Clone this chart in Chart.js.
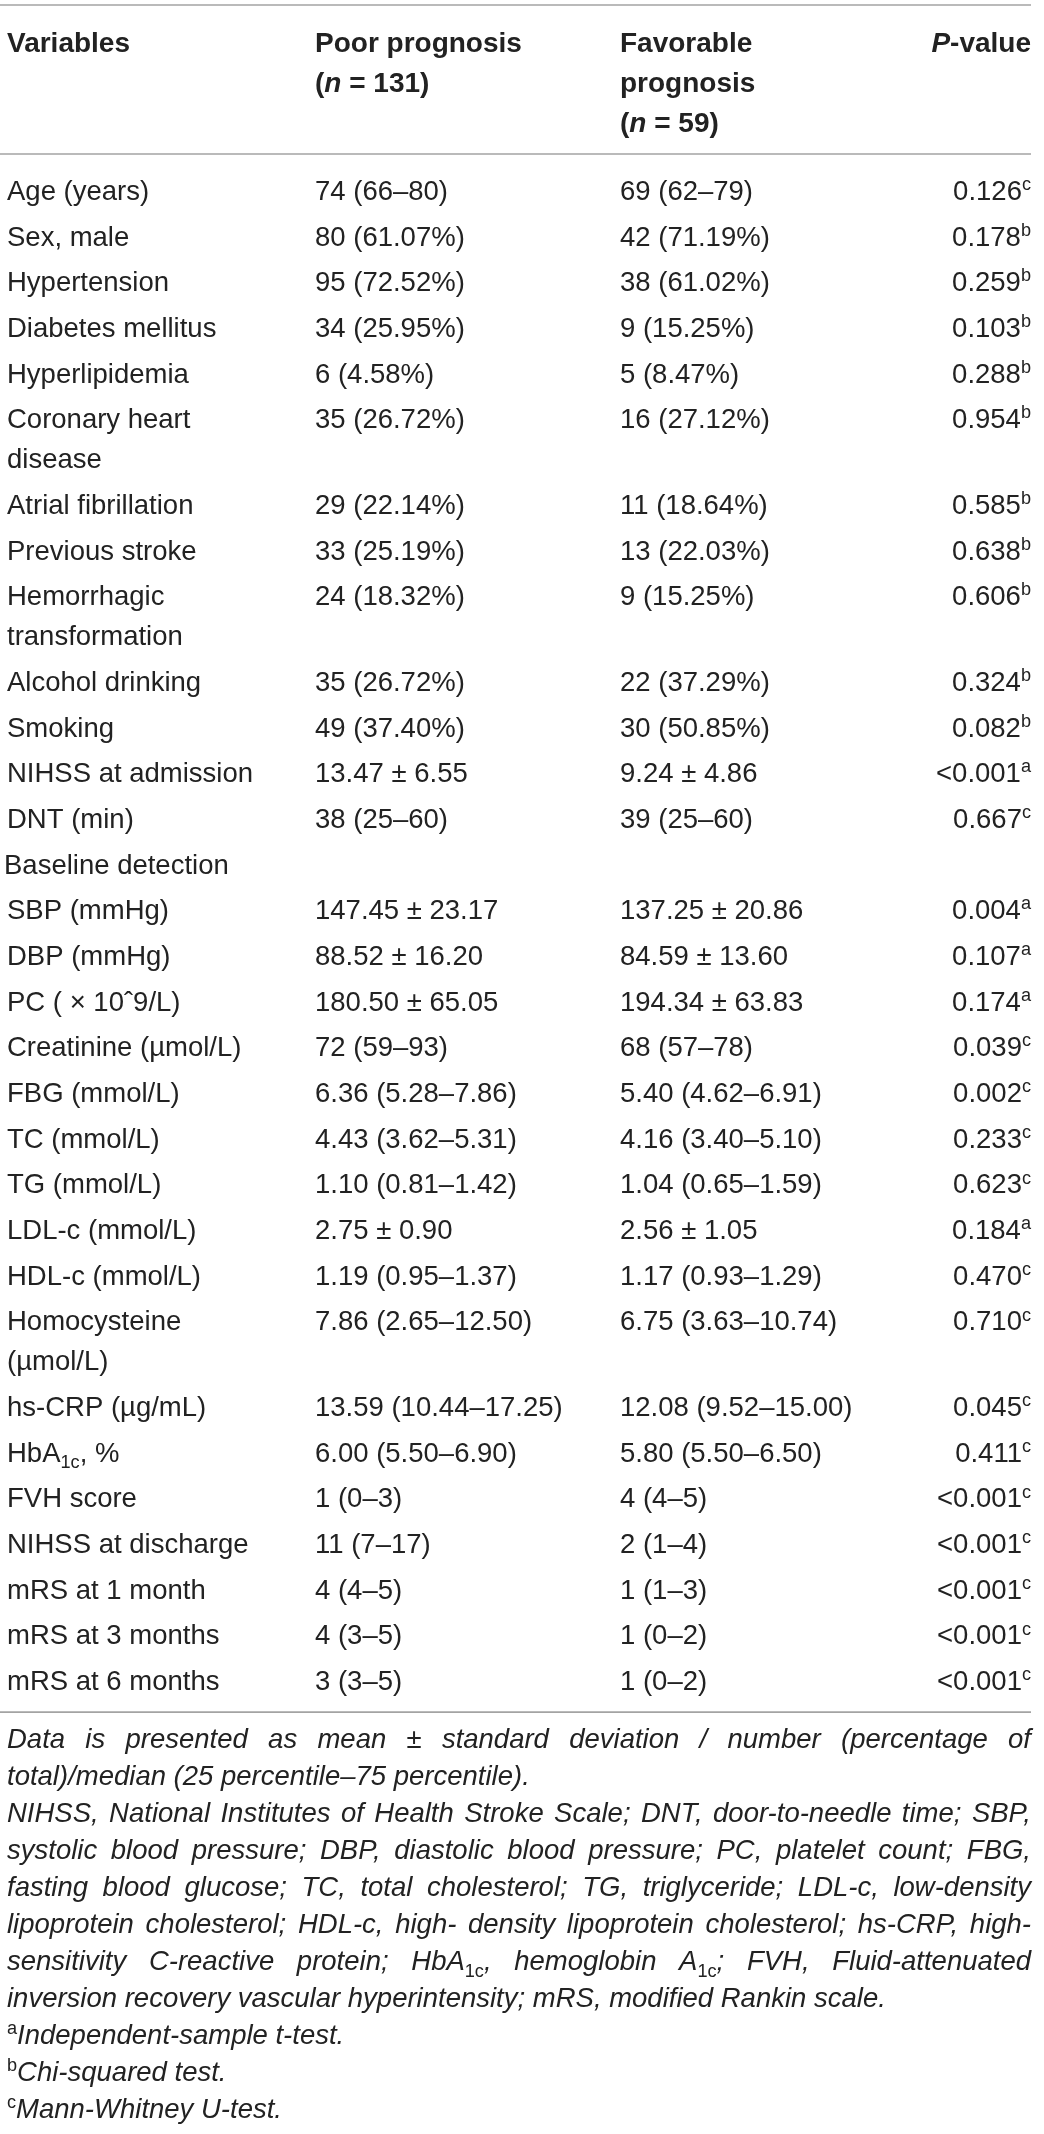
<!DOCTYPE html>
<html>
<head>
<meta charset="utf-8">
<script src="https://cdn.jsdelivr.net/npm/chart.js@4.4.0/dist/chart.umd.min.js"></script>
<style>
html,body{margin:0;padding:0;background:#ffffff;}
#wrap{width:1044px;height:2134px;position:relative;}
canvas{display:block;}
</style>
</head>
<body>
<div id="wrap"><canvas id="c" width="1044" height="2134"></canvas></div>
<script>
// ---------- DATA ----------
const headerVariables = ["Variables"];
const headerPoor = ["Poor prognosis", "(*n* = 131)"];
const headerFavorable = ["Favorable", "prognosis", "(*n* = 59)"];
const headerP = ["*P*-value"];

const variables = [
  "Age (years)", "Sex, male", "Hypertension", "Diabetes mellitus", "Hyperlipidemia",
  "Coronary heart\ndisease", "Atrial fibrillation", "Previous stroke",
  "Hemorrhagic\ntransformation", "Alcohol drinking", "Smoking", "NIHSS at admission",
  "DNT (min)", "Baseline detection", "SBP (mmHg)", "DBP (mmHg)", "PC ( \u00d7 10\u02c69/L)",
  "Creatinine (\u00b5mol/L)", "FBG (mmol/L)", "TC (mmol/L)", "TG (mmol/L)",
  "LDL-c (mmol/L)", "HDL-c (mmol/L)", "Homocysteine\n(\u00b5mol/L)", "hs-CRP (\u00b5g/mL)",
  "HbA_{1c}, %", "FVH score", "NIHSS at discharge", "mRS at 1 month",
  "mRS at 3 months", "mRS at 6 months"
];
const poorPrognosis = [
  "74 (66\u201380)", "80 (61.07%)", "95 (72.52%)", "34 (25.95%)", "6 (4.58%)",
  "35 (26.72%)", "29 (22.14%)", "33 (25.19%)", "24 (18.32%)", "35 (26.72%)",
  "49 (37.40%)", "13.47 \u00b1 6.55", "38 (25\u201360)", "", "147.45 \u00b1 23.17",
  "88.52 \u00b1 16.20", "180.50 \u00b1 65.05", "72 (59\u201393)", "6.36 (5.28\u20137.86)",
  "4.43 (3.62\u20135.31)", "1.10 (0.81\u20131.42)", "2.75 \u00b1 0.90", "1.19 (0.95\u20131.37)",
  "7.86 (2.65\u201312.50)", "13.59 (10.44\u201317.25)", "6.00 (5.50\u20136.90)", "1 (0\u20133)",
  "11 (7\u201317)", "4 (4\u20135)", "4 (3\u20135)", "3 (3\u20135)"
];
const favorablePrognosis = [
  "69 (62\u201379)", "42 (71.19%)", "38 (61.02%)", "9 (15.25%)", "5 (8.47%)",
  "16 (27.12%)", "11 (18.64%)", "13 (22.03%)", "9 (15.25%)", "22 (37.29%)",
  "30 (50.85%)", "9.24 \u00b1 4.86", "39 (25\u201360)", "", "137.25 \u00b1 20.86",
  "84.59 \u00b1 13.60", "194.34 \u00b1 63.83", "68 (57\u201378)", "5.40 (4.62\u20136.91)",
  "4.16 (3.40\u20135.10)", "1.04 (0.65\u20131.59)", "2.56 \u00b1 1.05", "1.17 (0.93\u20131.29)",
  "6.75 (3.63\u201310.74)", "12.08 (9.52\u201315.00)", "5.80 (5.50\u20136.50)", "4 (4\u20135)",
  "2 (1\u20134)", "1 (1\u20133)", "1 (0\u20132)", "1 (0\u20132)"
];
const pValues = [
  "0.126^{c}", "0.178^{b}", "0.259^{b}", "0.103^{b}", "0.288^{b}", "0.954^{b}",
  "0.585^{b}", "0.638^{b}", "0.606^{b}", "0.324^{b}", "0.082^{b}", "<0.001^{a}",
  "0.667^{c}", "", "0.004^{a}", "0.107^{a}", "0.174^{a}", "0.039^{c}", "0.002^{c}",
  "0.233^{c}", "0.623^{c}", "0.184^{a}", "0.470^{c}", "0.710^{c}", "0.045^{c}",
  "0.411^{c}", "<0.001^{c}", "<0.001^{c}", "<0.001^{c}", "<0.001^{c}", "<0.001^{c}"
];
const footnoteParagraphs = [
  ["Data is presented as mean \u00b1 standard deviation / number (percentage of",
   "total)/median (25 percentile\u201375 percentile)."],
  ["NIHSS, National Institutes of Health Stroke Scale; DNT, door-to-needle time; SBP,",
   "systolic blood pressure; DBP, diastolic blood pressure; PC, platelet count; FBG,",
   "fasting blood glucose; TC, total cholesterol; TG, triglyceride; LDL-c, low-density",
   "lipoprotein cholesterol; HDL-c, high- density lipoprotein cholesterol; hs-CRP, high-",
   "sensitivity C-reactive protein; HbA_{1c}, hemoglobin A_{1c}; FVH, Fluid-attenuated",
   "inversion recovery vascular hyperintensity; mRS, modified Rankin scale."],
  ["^{a}Independent-sample t-test."],
  ["^{b}Chi-squared test."],
  ["^{c}Mann-Whitney U-test."]
];

// ---------- LAYOUT / STYLE ----------
const FONT = '"Liberation Sans", Arial, Helvetica, sans-serif';
const BODY_SIZE = 27.5, HEAD_SIZE = 28;
const TEXT_COLOR = '#222222', RULE_COLOR = '#a3a3a3';
const COL_X = [7, 315, 620];      // left anchors
const SECTION_X = 4;              // left anchor for section rows (no values)
const COL_P_RIGHT = 1031;         // right anchor of p-value column
const RULE_LEFT = 0, RULE_RIGHT = 1031;
const TOP_RULE = 5, HEAD_RULE = 154;
const HEAD_FIRST = 52, HEAD_PITCH = 40;
const BODY_FIRST = 200, ROW_PITCH = 45.67, LINE_PITCH = 40;
const BOTTOM_RULE_GAP = 22;
const NOTE_GAP = 36, NOTE_PITCH = 37;

// ---------- RICH TEXT ----------
function parseRich(s, baseItalic) {
  const runs = []; let i = 0, italic = baseItalic, buf = '';
  const push = (t, mode) => { if (t) runs.push({ t, mode, italic: mode === 'n' ? italic : false }); };
  while (i < s.length) {
    const ch = s[i];
    if ((ch === '^' || ch === '_') && s[i + 1] === '{') {
      push(buf, 'n'); buf = '';
      const end = s.indexOf('}', i);
      push(s.slice(i + 2, end), ch === '^' ? 'sup' : 'sub');
      i = end + 1; continue;
    }
    if (ch === '*') { push(buf, 'n'); buf = ''; italic = !italic; i++; continue; }
    buf += ch; i++;
  }
  push(buf, 'n');
  return runs;
}
function runFont(r, bold, size) {
  const sz = r.mode === 'n' ? size : size * 0.66;
  return (r.italic ? 'italic ' : '') + (bold ? 'bold ' : '') + sz + 'px ' + FONT;
}
function richWidth(ctx, runs, bold, size) {
  let w = 0;
  for (const r of runs) { ctx.font = runFont(r, bold, size); w += ctx.measureText(r.t).width; }
  return w;
}
function drawRuns(ctx, runs, x, y, bold, size) {
  for (const r of runs) {
    ctx.font = runFont(r, bold, size);
    let dy = 0;
    if (r.mode === 'sup') dy = -size * 0.36;
    if (r.mode === 'sub') dy = size * 0.24;
    ctx.fillText(r.t, x, y + dy);
    x += ctx.measureText(r.t).width;
  }
  return x;
}
function drawRich(ctx, s, x, y, align, bold, size, italic) {
  const runs = parseRich(s, !!italic);
  const w = richWidth(ctx, runs, bold, size);
  const sx = align === 'right' ? x - w : x;
  drawRuns(ctx, runs, sx, y, bold, size);
}
function drawJustified(ctx, s, x0, x1, y, size) {
  const words = s.split(' ').map(w => parseRich(w, true));
  const widths = words.map(w => richWidth(ctx, w, false, size));
  const total = widths.reduce((a, b) => a + b, 0);
  const gap = (x1 - x0 - total) / (words.length - 1);
  let x = x0;
  words.forEach((w, k) => { drawRuns(ctx, w, x, y, false, size); x += widths[k] + gap; });
}

// ---------- TABLE PLUGIN (uses chart scales) ----------
const tablePlugin = {
  id: 'tablePlugin',
  afterDraw(chart) {
    const ctx = chart.ctx;
    const X = v => chart.scales.x.getPixelForValue(v);
    const Y = v => chart.scales.y.getPixelForValue(v);
    ctx.save();
    ctx.fillStyle = TEXT_COLOR;
    ctx.textBaseline = 'alphabetic';

    const rule = yv => {
      ctx.save();
      ctx.strokeStyle = RULE_COLOR; ctx.lineWidth = 1.6;
      ctx.beginPath(); ctx.moveTo(X(RULE_LEFT), Y(yv)); ctx.lineTo(X(RULE_RIGHT), Y(yv)); ctx.stroke();
      ctx.restore();
    };
    rule(TOP_RULE); rule(HEAD_RULE);

    // header
    [headerVariables, headerPoor, headerFavorable].forEach((lines, c) => {
      lines.forEach((t, k) => drawRich(ctx, t, X(COL_X[c]), Y(HEAD_FIRST + k * HEAD_PITCH), 'left', true, HEAD_SIZE));
    });
    headerP.forEach((t, k) => drawRich(ctx, t, X(COL_P_RIGHT), Y(HEAD_FIRST + k * HEAD_PITCH), 'right', true, HEAD_SIZE));

    // body
    let extra = 0, lastY = 0;
    variables.forEach((v, i) => {
      const base = BODY_FIRST + i * ROW_PITCH + extra * LINE_PITCH;
      const lines = v.split('\n');
      const isSection = !poorPrognosis[i] && !favorablePrognosis[i] && !pValues[i];
      const lx = isSection ? SECTION_X : COL_X[0];
      lines.forEach((t, k) => drawRich(ctx, t, X(lx), Y(base + k * LINE_PITCH), 'left', false, BODY_SIZE));
      if (poorPrognosis[i]) drawRich(ctx, poorPrognosis[i], X(COL_X[1]), Y(base), 'left', false, BODY_SIZE);
      if (favorablePrognosis[i]) drawRich(ctx, favorablePrognosis[i], X(COL_X[2]), Y(base), 'left', false, BODY_SIZE);
      if (pValues[i]) drawRich(ctx, pValues[i], X(COL_P_RIGHT), Y(base), 'right', false, BODY_SIZE);
      lastY = base + (lines.length - 1) * LINE_PITCH;
      extra += lines.length - 1;
    });
    const bottom = lastY + BOTTOM_RULE_GAP;
    rule(bottom);

    // footnotes
    let ny = bottom + NOTE_GAP;
    footnoteParagraphs.forEach(par => {
      par.forEach((line, k) => {
        if (k < par.length - 1) drawJustified(ctx, line, X(COL_X[0]), X(RULE_RIGHT), Y(ny), BODY_SIZE);
        else drawRich(ctx, line, X(COL_X[0]), Y(ny), 'left', false, BODY_SIZE, true);
        ny += NOTE_PITCH;
      });
    });
    ctx.restore();
  }
};

new Chart(document.getElementById('c').getContext('2d'), {
  type: 'scatter',
  data: { datasets: [] },
  options: {
    responsive: false,
    animation: false,
    devicePixelRatio: 1,
    layout: { padding: 0 },
    plugins: { legend: { display: false }, tooltip: { enabled: false }, title: { display: false } },
    scales: {
      x: { type: 'linear', min: 0, max: 1044, display: false },
      y: { type: 'linear', min: 0, max: 2134, reverse: true, display: false }
    }
  },
  plugins: [tablePlugin]
});
</script>
</body>
</html>
